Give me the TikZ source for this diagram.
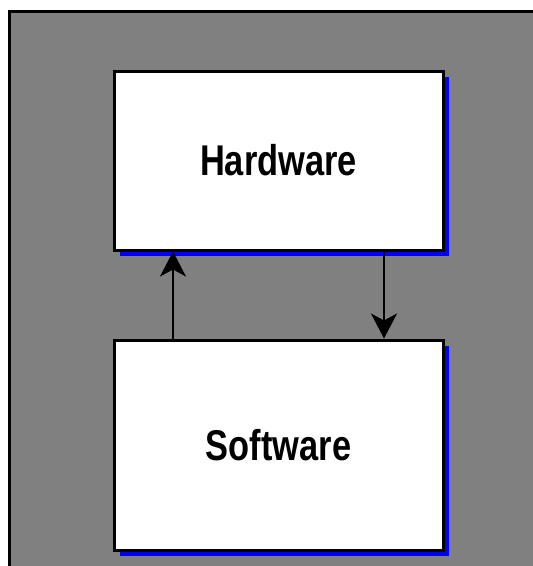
\documentclass[tikz,border=0pt]{standalone}
\usepackage{fontspec}
\setmainfont{Liberation Sans}[FakeStretch=0.8]
\usetikzlibrary{arrows.meta,shadows}
\definecolor{bggray}{RGB}{128,128,128}
\definecolor{shblue}{RGB}{0,0,255}
\tikzset{
  box/.style={draw=black, line width=3pt, fill=white, rectangle, inner sep=0pt,
    minimum width=329pt, font=\fontsize{43}{50}\selectfont\bfseries,
    general shadow={fill=shblue, shadow xshift=6pt, shadow yshift=-6pt}},
  arr/.style={line width=2pt, -{Stealth[length=25pt,width=26pt,inset=7pt]}}
}
\begin{document}
\begin{tikzpicture}[x=1pt,y=-1pt]
\path[use as bounding box] (0,0) rectangle (533,566);
\fill[bggray] (9.5,11.5) rectangle (545,578);
\draw[line width=3pt] (9.5,578) -- (9.5,11.5) -- (545,11.5);
\node[box, minimum height=179pt] (hw) at (278.5,160.5) {Hardware};
\node[box, minimum height=210pt] (sw) at (278.5,445) {Software};
\coordinate (la) at (173,0);
\coordinate (ra) at (384,0);
\draw[arr] (sw.north -| la) -- (hw.south -| la);
\draw[arr] (hw.south -| ra) -- (sw.north -| ra);
\end{tikzpicture}
\end{document}
